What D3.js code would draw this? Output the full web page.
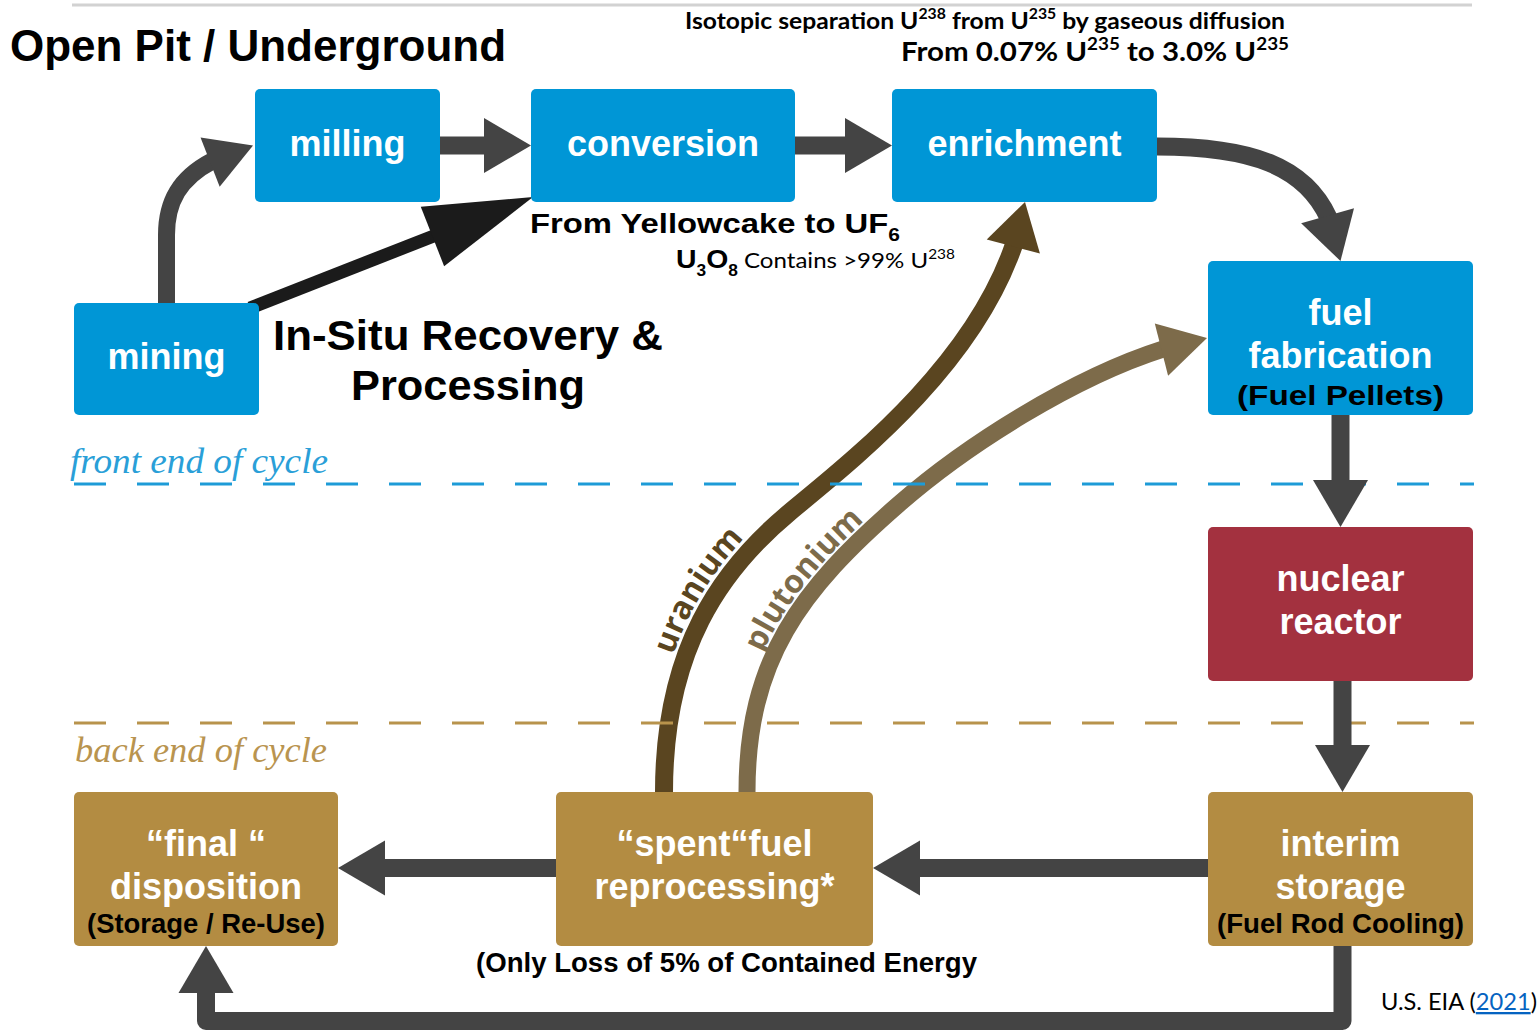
<!DOCTYPE html>
<html>
<head>
<meta charset="utf-8">
<title>Nuclear fuel cycle</title>
<script src="https://cdn.jsdelivr.net/npm/d3@7"></script>
<style>
  body { margin: 0; background: #fff; }
  svg { display: block; }
</style>
</head>
<body>
<svg id="chart"></svg>
<script>
(function() {
  'use strict';

  // ---- content ----
  const stages = ['mining', 'milling', 'conversion', 'enrichment', 'fabrication',
    'reactor', 'storage', 'reprocessing', 'disposition'];
  const stageTitles = [['mining'], ['milling'], ['conversion'], ['enrichment'],
    ['fuel', 'fabrication'], ['nuclear', 'reactor'], ['interim', 'storage'],
    ['\u201Cspent\u201Cfuel', 'reprocessing*'], ['\u201Cfinal \u201C', 'disposition']];
  const stageNotes = ['', '', '', '', '(Fuel Pellets)', '', '(Fuel Rod Cooling)', '',
    '(Storage / Re-Use)'];
  const stagePhases = ['front', 'front', 'front', 'front', 'front', 'core', 'back', 'back', 'back'];

  const flows = [
    ['mining', 'milling'], ['mining', 'conversion'], ['milling', 'conversion'],
    ['conversion', 'enrichment'], ['enrichment', 'fabrication'], ['fabrication', 'reactor'],
    ['reactor', 'storage'], ['storage', 'reprocessing'], ['reprocessing', 'disposition'],
    ['storage', 'disposition'],
  ];
  const recycleFlows = [
    ['reprocessing', 'enrichment', 'uranium'],
    ['reprocessing', 'fabrication', 'plutonium'],
  ];

  const phaseLabels = ['front end of cycle', 'back end of cycle'];
  const miningTitles = ['Open Pit / Underground', 'In-Situ Recovery &', 'Processing'];
  const isotopeLines = [
    [['Isotopic separation U', ''], ['238', 'sup'], [' from U', ''], ['235', 'sup'],
      [' by gaseous diffusion', '']],
    [['From 0.07% U', ''], ['235', 'sup'], [' to 3.0% U', ''], ['235', 'sup']],
  ];
  const conversionLines = [
    [['From Yellowcake to UF', ''], ['6', 'sub']],
    [['U', 'chem'], ['3', 'chemSub'], ['O', 'chem'], ['8', 'chemSub'],
      [' Contains >99% U', ''], ['238', 'sup']],
  ];
  const reprocessingNote = '(Only Loss of 5% of Contained Energy';
  const sourceRuns = [['U.S. EIA (', ''], ['2021', 'link'], [')', '']];

  // ---- layout ----
  const width = 1539;
  const height = 1031;
  const sans = '"Liberation Sans", Arial, Helvetica, sans-serif';
  const humanist = 'Lato, "Open Sans", sans-serif';
  const serif = '"Liberation Serif", "Times New Roman", serif';

  const phaseColor = {front: '#0096d6', core: '#a3313f', back: '#b38c42'};
  const boxGeom = {
    mining: [74, 303, 185, 112],
    milling: [255, 89, 185, 113],
    conversion: [531, 89, 264, 113],
    enrichment: [892, 89, 265, 113],
    fabrication: [1208, 261, 265, 154],
    reactor: [1208, 527, 265, 154],
    storage: [1208, 792, 265, 154],
    reprocessing: [556, 792, 317, 154],
    disposition: [74, 792, 264, 154],
  };
  const noteLength = {fabrication: 207, storage: 247, disposition: 238};
  const noteDrop = {fabrication: 67, storage: 64, disposition: 64};

  const box = (id) => {
    const b = boxGeom[id];
    return {l: b[0], t: b[1], r: b[0] + b[2], b: b[1] + b[3],
      x: b[0] + b[2] / 2, y: b[1] + b[3] / 2};
  };

  const gray = {color: '#444444', width: 18, head: 47, headWidth: 55};
  const routes = {
    'mining>milling': (a, b) => ({
      d: 'M' + a.x + ',' + a.t + 'L' + a.x + ',' + (a.t - 68) +
        'C' + a.x + ',' + (a.t - 113) + ' ' + (a.x + 24) + ',' + (a.t - 140) +
        ' ' + (b.l - 2) + ',' + b.y,
      style: {color: '#444444', width: 17, head: 46, headWidth: 53},
    }),
    'mining>conversion': (a, b) => ({
      d: 'M' + (a.r - 9) + ',' + (a.t + 5) + 'L' + (b.l + 2) + ',' + (b.b - 5),
      style: {color: '#1b1b1b', width: 13, head: 108, headWidth: 64},
    }),
    'milling>conversion': (a, b) => ({d: 'M' + a.r + ',' + a.y + 'L' + b.l + ',' + b.y, style: gray}),
    'conversion>enrichment': (a, b) => ({d: 'M' + a.r + ',' + a.y + 'L' + b.l + ',' + b.y, style: gray}),
    'enrichment>fabrication': (a, b) => ({
      d: 'M' + a.r + ',' + (a.y + 1) + 'C' + (a.r + 118) + ',' + (a.y + 1) + ' ' +
        (b.x - 12) + ',' + (a.y + 32) + ' ' + b.x + ',' + b.t,
      style: gray,
    }),
    'fabrication>reactor': (a, b) => ({d: 'M' + a.x + ',' + a.b + 'L' + b.x + ',' + b.t, style: gray}),
    'reactor>storage': (a, b) => ({d: 'M' + (a.x + 2) + ',' + a.b + 'L' + (b.x + 2) + ',' + b.t, style: gray}),
    'storage>reprocessing': (a, b) => ({d: 'M' + a.l + ',' + (a.y - 1) + 'L' + b.r + ',' + (b.y - 1), style: gray}),
    'reprocessing>disposition': (a, b) => ({d: 'M' + a.l + ',' + (a.y - 1) + 'L' + b.r + ',' + (b.y - 1), style: gray}),
    'storage>disposition': (a, b) => ({
      d: 'M' + (a.x + 2) + ',' + a.b + 'L' + (a.x + 2) + ',' + (a.b + 75) +
        'L' + b.x + ',' + (a.b + 75) + 'L' + b.x + ',' + b.b,
      style: gray,
    }),
  };

  // two cubic pieces per recycle stream: start, [c1, c2, end], [c1, c2, end]
  const recycleRoutes = {
    uranium: [[664, 792], [[664, 650], [720, 570], [790, 512]],
      [[860, 454], [1000, 345], [1025, 202]]],
    plutonium: [[747, 792], [[747, 660], [800, 590], [899, 504]],
      [[978, 435], [1110, 355], [1207, 338]]],
  };
  const recycleStyle = {
    uranium: {color: '#5a4520', width: 18, head: 46, headWidth: 55, labelFrom: 660, gap: 3},
    plutonium: {color: '#7d6b4a', width: 17, head: 47, headWidth: 54, labelFrom: 660, gap: 2},
  };

  // ---- drawing ----
  const svg = d3.select('#chart')
      .attr('width', width)
      .attr('height', height)
      .attr('viewBox', '0 0 ' + width + ' ' + height);
  svg.append('rect').attr('width', width).attr('height', height).attr('fill', '#fff');
  const defs = svg.append('defs');

  const recycleLayer = svg.append('g');
  const ruleLayer = svg.append('g');
  const arrowLayer = svg.append('g');
  const boxLayer = svg.append('g');
  const textLayer = svg.append('g');

  function blockArrow(layer, d, style) {
    const path = layer.append('path')
        .attr('d', d)
        .attr('fill', 'none')
        .attr('stroke', style.color)
        .attr('stroke-width', style.width)
        .attr('stroke-linejoin', 'round');
    const node = path.node();
    const total = node.getTotalLength();
    path.attr('stroke-dasharray', (total - style.head + 2) + ' ' + (total + 50));
    const tip = node.getPointAtLength(total);
    const back = node.getPointAtLength(total - style.head);
    const dx = tip.x - back.x;
    const dy = tip.y - back.y;
    const k = Math.hypot(dx, dy);
    const ux = dx / k;
    const uy = dy / k;
    const bx = tip.x - ux * style.head;
    const by = tip.y - uy * style.head;
    const hw = style.headWidth / 2;
    layer.append('path')
        .attr('d', 'M' + tip.x + ',' + tip.y +
          'L' + (bx - uy * hw) + ',' + (by + ux * hw) +
          'L' + (bx + uy * hw) + ',' + (by - ux * hw) + 'Z')
        .attr('fill', style.color);
    return node;
  }

  function richText(layer, runs, o) {
    const t = layer.append('text')
        .attr('x', o.x)
        .attr('y', o.y)
        .attr('font-family', o.family)
        .attr('font-weight', o.weight || 700)
        .attr('font-size', o.size)
        .attr('fill', o.fill || '#000')
        .attr('text-anchor', o.anchor || 'start');
    if (o.len) {
      t.attr('textLength', o.len).attr('lengthAdjust', 'spacingAndGlyphs');
    }
    let shift = 0;
    runs.forEach(([s, kind]) => {
      const sp = t.append('tspan').text(s);
      let target = 0;
      if (kind === 'sup') {
        target = -o.size * 0.42;
        sp.attr('font-size', o.size * 0.64);
      } else if (kind === 'sub') {
        target = o.size * 0.28;
        sp.attr('font-size', o.size * 0.64);
      } else if (kind === 'chem') {
        sp.attr('font-family', sans).attr('font-weight', 700).attr('font-size', o.size * 1.18);
      } else if (kind === 'chemSub') {
        target = o.size * 0.36;
        sp.attr('font-family', sans).attr('font-weight', 700).attr('font-size', o.size * 0.72);
      } else if (kind === 'link') {
        sp.attr('fill', '#0563c1').attr('text-decoration', 'underline');
      }
      if (target !== shift) sp.attr('dy', target - shift);
      shift = target;
    });
    return t;
  }

  // top rule
  ruleLayer.append('line')
      .attr('x1', 72).attr('x2', 1472)
      .attr('y1', 5).attr('y2', 5)
      .attr('stroke', '#d2d2d2')
      .attr('stroke-width', 3);

  // phase separators
  const phaseRules = [
    {y: 484, color: '#1d9bd7', label: [70, 473, 258], text: '#2a9fd8'},
    {y: 723, color: '#b8934c', label: [75, 762, 252], text: '#b9944f'},
  ];
  phaseRules.forEach((r, i) => {
    ruleLayer.append('line')
        .attr('x1', 74).attr('x2', 1474)
        .attr('y1', r.y).attr('y2', r.y)
        .attr('stroke', r.color)
        .attr('stroke-width', 3)
        .attr('stroke-dasharray', '32 31');
    textLayer.append('text')
        .attr('x', r.label[0])
        .attr('y', r.label[1])
        .attr('font-family', serif)
        .attr('font-style', 'italic')
        .attr('font-size', 36)
        .attr('fill', r.text)
        .attr('textLength', r.label[2])
        .attr('lengthAdjust', 'spacingAndGlyphs')
        .text(phaseLabels[i]);
  });

  // recycle streams + labels running along them
  recycleFlows.forEach(([from, to, label]) => {
    const st = recycleStyle[label];
    const r = recycleRoutes[label];
    const p = d3.path();
    p.moveTo(r[0][0], r[0][1]);
    r.slice(1).forEach((c) => {
      p.bezierCurveTo(c[0][0], c[0][1], c[1][0], c[1][1], c[2][0], c[2][1]);
    });
    const node = blockArrow(recycleLayer, p.toString(), st);
    const total = node.getTotalLength();
    const off = st.width / 2 + st.gap;
    const pts = [];
    for (let s = 0; s < total - 60; s += 3) {
      const a = node.getPointAtLength(s);
      if (a.y > st.labelFrom) continue;
      const q = node.getPointAtLength(s + 1);
      const k = Math.hypot(q.x - a.x, q.y - a.y) || 1;
      const dx = (q.x - a.x) / k;
      const dy = (q.y - a.y) / k;
      pts.push([a.x + dy * off, a.y - dx * off]);
    }
    defs.append('path').attr('id', 'along-' + label).attr('d', d3.line()(pts));
    textLayer.append('text')
        .attr('font-family', '"Open Sans", sans-serif')
        .attr('font-weight', 700)
        .attr('font-size', 32)
        .attr('fill', st.color)
        .append('textPath')
        .attr('href', '#along-' + label)
        .text(label);
  });

  // process flows
  flows.forEach(([from, to]) => {
    const r = routes[from + '>' + to](box(from), box(to));
    blockArrow(arrowLayer, r.d, r.style);
  });

  // stage boxes
  stages.forEach((id, i) => {
    const b = box(id);
    const g = boxLayer.append('g');
    g.append('rect')
        .attr('x', b.l).attr('y', b.t)
        .attr('width', b.r - b.l).attr('height', b.b - b.t)
        .attr('rx', 5)
        .attr('fill', phaseColor[stagePhases[i]]);
    const lines = stageTitles[i];
    const base = lines.length === 1 ? [b.y + 10] : [b.y - 13, b.y + 30];
    lines.forEach((line, j) => {
      g.append('text')
          .attr('x', b.x)
          .attr('y', base[j])
          .attr('text-anchor', 'middle')
          .attr('font-family', sans)
          .attr('font-weight', 700)
          .attr('font-size', 36)
          .attr('fill', '#fff')
          .text(line);
    });
    if (stageNotes[i]) {
      g.append('text')
          .attr('x', b.x)
          .attr('y', b.y + noteDrop[id])
          .attr('text-anchor', 'middle')
          .attr('font-family', sans)
          .attr('font-weight', 700)
          .attr('font-size', 28)
          .attr('fill', '#000')
          .attr('textLength', noteLength[id])
          .attr('lengthAdjust', 'spacingAndGlyphs')
          .text(stageNotes[i]);
    }
  });

  // annotations
  richText(textLayer, [[miningTitles[0], '']], {x: 10, y: 61, size: 44, family: sans, len: 496});
  richText(textLayer, [[miningTitles[1], '']], {x: 273, y: 350, size: 42, family: sans, len: 390});
  richText(textLayer, [[miningTitles[2], '']], {x: 351, y: 400, size: 42, family: sans, len: 234});
  richText(textLayer, isotopeLines[0], {x: 685, y: 29, size: 23, family: humanist, len: 600});
  richText(textLayer, isotopeLines[1], {x: 901, y: 61, size: 26, family: humanist, len: 388});
  richText(textLayer, conversionLines[0], {x: 530, y: 233, size: 28, family: sans, len: 370});
  richText(textLayer, conversionLines[1], {x: 676, y: 268, size: 22, family: humanist,
    weight: 400, len: 279});
  richText(textLayer, [[reprocessingNote, '']], {x: 476, y: 972, size: 27, family: sans, len: 501});
  richText(textLayer, sourceRuns, {x: 1381, y: 1010, size: 23, family: humanist,
    weight: 400, len: 156});
})();
</script>
</body>
</html>
